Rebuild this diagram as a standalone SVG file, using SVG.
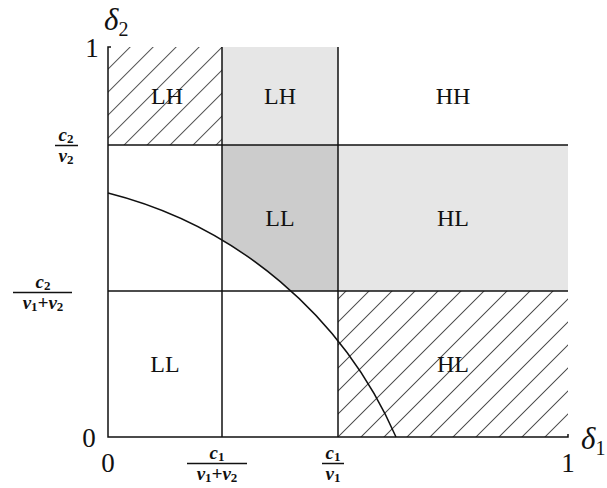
<svg xmlns="http://www.w3.org/2000/svg" width="607" height="488" viewBox="0 0 607 488">
<style>
.ln{stroke:#111;stroke-width:1.5;fill:none}
.lbl{font-family:"Liberation Serif",serif;font-size:24px;fill:#111;text-anchor:middle}
.ax{font-family:"Liberation Serif",serif;font-size:27px;fill:#111;text-anchor:middle}
.m{font-family:"Liberation Serif",serif;font-style:italic;font-weight:bold;font-size:19px;fill:#111;text-anchor:middle}
.sub{font-size:13px;font-style:normal}
.big{font-family:"Liberation Serif",serif;font-style:italic;font-size:31px;fill:#111}
.bar{stroke:#111;stroke-width:1.5}
</style>
<defs>
<pattern id="hatch" patternUnits="userSpaceOnUse" width="16.26" height="10" patternTransform="translate(15.5,0) rotate(45)">
<line x1="0" y1="-1" x2="0" y2="11" stroke="#111" stroke-width="1.4"/>
</pattern>
</defs>
<g id="regions">
<rect id="lh-hatch" x="108" y="47" width="114" height="98" fill="url(#hatch)"/>
<rect id="lh-gray" x="222" y="47" width="116" height="98" fill="#e6e6e6"/>
<rect id="hl-gray" x="338" y="145" width="230" height="146" fill="#e6e6e6"/>
<path id="ll-gray" d="M222,145 H338 V291 H291 A429,429 0 0 0 222,241 Z" fill="#cccccc"/>
<rect id="hl-hatch" x="338" y="291" width="230" height="146" fill="url(#hatch)"/>
</g>
<g id="connectors">
<path class="ln" d="M111,47 H108 V437 H568 V434"/>
<line class="ln" x1="108" y1="145" x2="568" y2="145"/>
<line class="ln" x1="108" y1="291" x2="568" y2="291"/>
<line class="ln" x1="222" y1="47" x2="222" y2="437"/>
<line class="ln" x1="338" y1="47" x2="338" y2="437"/>
<path class="ln" d="M108,193 A429,429 0 0 1 396,437"/>
</g>
<g id="labels">
<text class="lbl" x="167" y="104">LH</text>
<text class="lbl" x="280" y="104">LH</text>
<text class="lbl" x="453" y="104">HH</text>
<text class="lbl" x="280" y="226">LL</text>
<text class="lbl" x="453" y="226">HL</text>
<text class="lbl" x="165" y="372">LL</text>
<text class="lbl" x="453" y="372">HL</text>
</g>
<g id="axes-labels">
<text class="big" x="104" y="30">δ<tspan font-size="20" font-style="normal" dy="6">2</tspan></text>
<text class="big" x="581" y="449">δ<tspan font-size="20" font-style="normal" dy="6">1</tspan></text>
<text class="ax" x="92" y="57">1</text>
<text class="ax" x="89" y="447">0</text>
<text class="ax" x="108" y="472">0</text>
<text class="ax" x="568" y="472">1</text>
<text class="m" x="66" y="141">c<tspan class="sub" dy="2">2</tspan></text>
<line class="bar" x1="55" y1="145.5" x2="78" y2="145.5"/>
<text class="m" x="66" y="162">v<tspan class="sub" dy="2">2</tspan></text>
<text class="m" x="43" y="288">c<tspan class="sub" dy="2">2</tspan></text>
<line class="bar" x1="13" y1="292.5" x2="72" y2="292.5"/>
<text class="m" x="43" y="309">v<tspan class="sub" dy="2">1</tspan><tspan dy="-2">+v</tspan><tspan class="sub" dy="2">2</tspan></text>
<text class="m" x="217" y="459">c<tspan class="sub" dy="2">1</tspan></text>
<line class="bar" x1="187" y1="463.5" x2="247" y2="463.5"/>
<text class="m" x="217" y="480">v<tspan class="sub" dy="2">1</tspan><tspan dy="-2">+v</tspan><tspan class="sub" dy="2">2</tspan></text>
<text class="m" x="333" y="459">c<tspan class="sub" dy="2">1</tspan></text>
<line class="bar" x1="322" y1="463.5" x2="344" y2="463.5"/>
<text class="m" x="333" y="480">v<tspan class="sub" dy="2">1</tspan></text>
</g>
</svg>
